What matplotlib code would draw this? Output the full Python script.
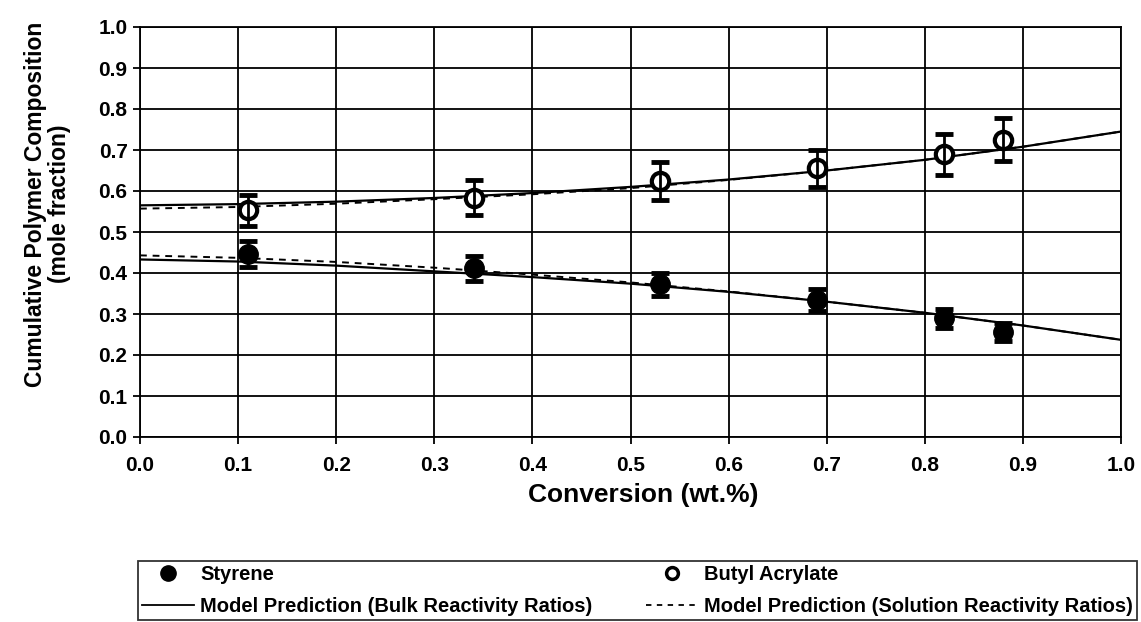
import numpy as np
import matplotlib
matplotlib.use("Agg")
import matplotlib.pyplot as plt
from matplotlib import font_manager
from matplotlib.lines import Line2D

# ---------------- data ----------------
conversion = [0.11, 0.34, 0.53, 0.69, 0.82, 0.88]
styrene = [0.447, 0.411, 0.373, 0.334, 0.290, 0.255]
styrene_err = [0.032, 0.030, 0.028, 0.027, 0.023, 0.022]
butyl_acrylate = [0.553, 0.584, 0.625, 0.655, 0.690, 0.725]
butyl_acrylate_err = [0.038, 0.042, 0.046, 0.046, 0.050, 0.052]

model_x = [0.0, 0.1, 0.2, 0.3, 0.4, 0.5, 0.6, 0.7, 0.8, 0.9, 1.0]
bulk_styrene = [0.433, 0.428, 0.418, 0.404, 0.390, 0.374, 0.354, 0.330, 0.303, 0.272, 0.237]
bulk_ba = [0.565, 0.568, 0.574, 0.583, 0.595, 0.610, 0.628, 0.650, 0.676, 0.708, 0.745]
sol_styrene = [0.443, 0.437, 0.427, 0.413, 0.396, 0.377, 0.355, 0.330, 0.303, 0.272, 0.237]
sol_ba = [0.557, 0.561, 0.569, 0.580, 0.592, 0.607, 0.627, 0.650, 0.676, 0.708, 0.745]

xticks = [0.0, 0.1, 0.2, 0.3, 0.4, 0.5, 0.6, 0.7, 0.8, 0.9, 1.0]
yticks = [0.0, 0.1, 0.2, 0.3, 0.4, 0.5, 0.6, 0.7, 0.8, 0.9, 1.0]
tick_labels = [f"{v:.1f}" for v in xticks]

legend_labels = ["Styrene", "Model Prediction (Bulk Reactivity Ratios)",
                 "Butyl Acrylate", "Model Prediction (Solution Reactivity Ratios)"]

# ---------------- fonts ----------------
names = {f.name for f in font_manager.fontManager.ttflist}
base = "Liberation Sans" if "Liberation Sans" in names else "DejaVu Sans"
plt.rcParams["font.family"] = [base, "DejaVu Sans"]
plt.rcParams["font.weight"] = "bold"

W, H = 1141, 622
fig = plt.figure(figsize=(W / 100, H / 100), dpi=100)
ax = fig.add_axes([140 / W, 1 - 437 / H, 981 / W, 410 / H])

ax.set_xlim(0, 1)
ax.set_ylim(0, 1)
ax.set_xticks(xticks)
ax.set_yticks(yticks)
ax.set_xticklabels(tick_labels)
ax.set_yticklabels([f"{v:.1f}" for v in yticks])
ax.grid(True, color="black", linewidth=1.3)
ax.set_axisbelow(True)
for s in ax.spines.values():
    s.set_linewidth(1.3)
    s.set_color("black")
ax.tick_params(direction="out", length=5, width=1.3, labelsize=15)
ax.tick_params(axis="x", pad=9)
ax.tick_params(axis="y", pad=4)
for lab in ax.get_xticklabels() + ax.get_yticklabels():
    lab.set_fontweight("bold")

# model lines
ax.plot(model_x, sol_styrene, color="black", lw=1.4, ls=(0, (3.5, 3)), zorder=2)
ax.plot(model_x, sol_ba, color="black", lw=1.4, ls=(0, (3.5, 3)), zorder=2)
ax.plot(model_x, bulk_styrene, color="black", lw=1.6, zorder=2)
ax.plot(model_x, bulk_ba, color="black", lw=1.6, zorder=2)

# data points
ax.plot(conversion, styrene, ls="none", marker="o", ms=14, color="black", zorder=3)
ax.errorbar(conversion, styrene, yerr=styrene_err, fmt="none", ecolor="black",
            elinewidth=2, capsize=6.5, capthick=3.5, zorder=4)
ax.plot(conversion, butyl_acrylate, ls="none", marker="o", ms=12.5, mfc="white",
        mec="black", mew=3, zorder=3)
ax.errorbar(conversion, butyl_acrylate, yerr=butyl_acrylate_err, fmt="none",
            ecolor="black", elinewidth=2, capsize=6.5, capthick=3.5, zorder=4)

ax.set_xlabel("Conversion (wt.%)", fontsize=19, fontweight="bold")
ax.xaxis.set_label_coords(0.513, -0.112)
ax.set_ylabel("Cumulative Polymer Composition\n(mole fraction)", fontsize=16.5,
              fontweight="bold", multialignment="center", linespacing=1.1)
ax.yaxis.set_label_coords(-0.070, 0.568)

handles = [
    Line2D([], [], ls="none", marker="o", ms=11, color="black"),
    Line2D([], [], color="black", lw=1.3),
    Line2D([], [], ls="none", marker="o", ms=8.5, mfc="white", mec="black", mew=2.5),
    Line2D([], [], color="black", lw=1.3, ls=(0, (3, 3))),
]
leg = fig.legend(handles, legend_labels, ncol=2, mode="expand", loc="upper left",
                 bbox_to_anchor=(138 / W, 0.0, 999 / W, 1 - 561 / H),
                 borderaxespad=0, frameon=True, fancybox=False, edgecolor="black",
                 handlelength=2.6, handletextpad=0.3, labelspacing=0.65,
                 borderpad=0.2, prop={"family": base, "weight": "bold",
                                      "size": 14.5})
leg.get_frame().set_linewidth(1.3)

fig.savefig("out.png", dpi=100)
